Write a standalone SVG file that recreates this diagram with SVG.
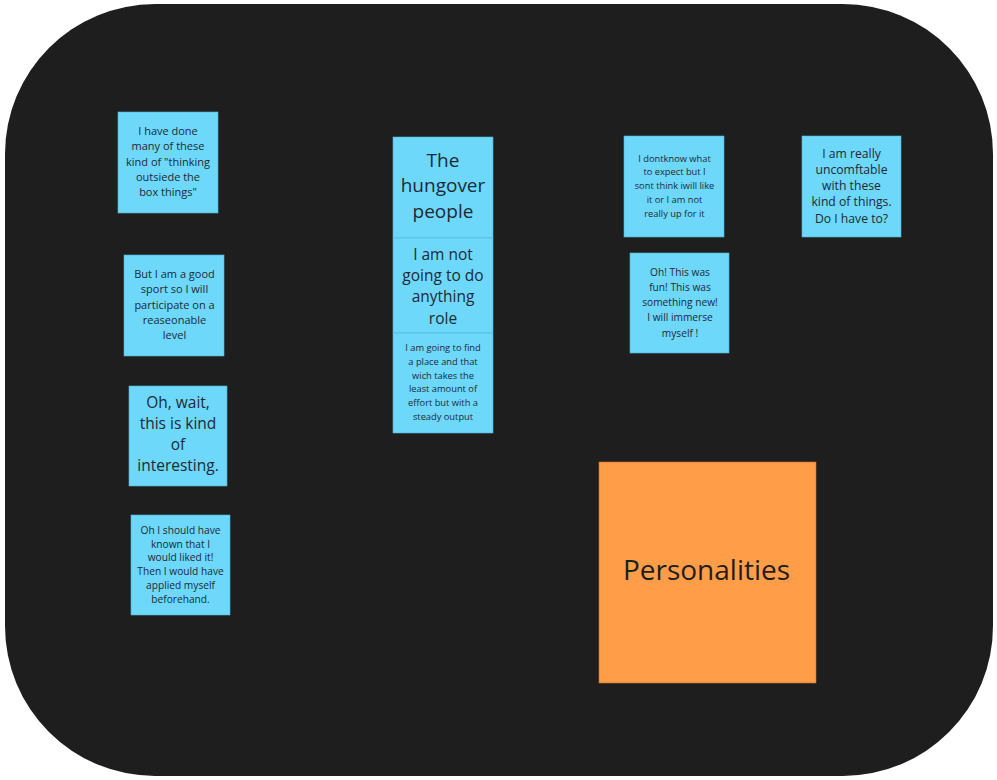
<svg xmlns="http://www.w3.org/2000/svg" width="997" height="780" viewBox="0 0 997 780">
<style>
.note{fill:#6dd8fa;stroke:#4fb7d8;stroke-width:0.6}
.org{fill:#ff9d48;stroke:#c9742c;stroke-width:0.6}
text{font-family:"Open Sans","Noto Sans","Liberation Sans",sans-serif;fill:#1e2a35;text-anchor:middle}
.s95{font-size:9.3px}.s105{font-size:10.2px}.s11{font-size:11px}.s125{font-size:12.2px}.s155{font-size:15.5px}.s19{font-size:19px}
.big{font-size:28px;fill:#1e1e1e}
</style>
<rect x="5" y="4" width="988" height="772" rx="150" ry="150" fill="#1e1e1e"/>
<g id="n1"><rect class="note" x="118" y="112" width="100" height="101"/>
<text class="s11"><tspan x="168" y="135">I have done</tspan><tspan x="168" y="150.3">many of these</tspan><tspan x="168" y="165.6">kind of "thinking</tspan><tspan x="168" y="181">outsiede the</tspan><tspan x="168" y="196.3">box things"</tspan></text></g>
<g id="n2"><rect class="note" x="124" y="255" width="100" height="101"/>
<text class="s11"><tspan x="174.5" y="278">But I am a good</tspan><tspan x="174.5" y="293.3">sport so I will</tspan><tspan x="174.5" y="308.6">participate on a</tspan><tspan x="174.5" y="324">reaseonable</tspan><tspan x="174.5" y="339.3">level</tspan></text></g>
<g id="n3"><rect class="note" x="129" y="386" width="98" height="100"/>
<text class="s155"><tspan x="178" y="407.5">Oh, wait,</tspan><tspan x="178" y="428.8">this is kind</tspan><tspan x="178" y="450">of</tspan><tspan x="178" y="471.3">interesting.</tspan></text></g>
<g id="n4"><rect class="note" x="131" y="515" width="99" height="100"/>
<text class="s105"><tspan x="180.5" y="533.7">Oh I should have</tspan><tspan x="180.5" y="547.5">known that I</tspan><tspan x="180.5" y="561.3">would liked it!</tspan><tspan x="180.5" y="575.1">Then I would have</tspan><tspan x="180.5" y="588.9">applied myself</tspan><tspan x="180.5" y="602.7">beforehand.</tspan></text></g>
<g id="n5"><rect class="note" x="393" y="137" width="100" height="101"/>
<text class="s19"><tspan x="443" y="166.5">The</tspan><tspan x="443" y="192.3">hungover</tspan><tspan x="443" y="218">people</tspan></text></g>
<g id="n6"><rect class="note" x="393" y="238" width="100" height="95"/>
<text class="s155"><tspan x="443" y="259.5">I am not</tspan><tspan x="443" y="281">going to do</tspan><tspan x="443" y="302.3">anything</tspan><tspan x="443" y="323.5">role</tspan></text></g>
<g id="n7"><rect class="note" x="393" y="333" width="100" height="100"/>
<text class="s95"><tspan x="443" y="351.3">I am going to find</tspan><tspan x="443" y="365">a place and that</tspan><tspan x="443" y="378.7">wich takes the</tspan><tspan x="443" y="392.4">least amount of</tspan><tspan x="443" y="406.1">effort but with a</tspan><tspan x="443" y="419.8">steady output</tspan></text></g>
<g id="n8"><rect class="note" x="624" y="136" width="100" height="101"/>
<text class="s95"><tspan x="674.5" y="161.5">I dontknow what</tspan><tspan x="674.5" y="175.3">to expect but I</tspan><tspan x="674.5" y="189.1">sont think iwill like</tspan><tspan x="674.5" y="202.9">it or I am not</tspan><tspan x="674.5" y="216.7">really up for it</tspan></text></g>
<g id="n9"><rect class="note" x="630" y="253" width="99" height="100"/>
<text class="s105"><tspan x="680" y="275.5">Oh! This was</tspan><tspan x="680" y="290.8">fun! This was</tspan><tspan x="680" y="306.1">something new!</tspan><tspan x="680" y="321.4">I will immerse</tspan><tspan x="680" y="336.7">myself !</tspan></text></g>
<g id="n10"><rect class="note" x="802" y="136" width="99" height="101"/>
<text class="s125"><tspan x="851.5" y="157.5">I am really</tspan><tspan x="851.5" y="173.8">uncomftable</tspan><tspan x="851.5" y="190.1">with these</tspan><tspan x="851.5" y="206.4">kind of things.</tspan><tspan x="851.5" y="222.7">Do I have to?</tspan></text></g>
<g id="n11"><rect class="org" x="599" y="462" width="217" height="221"/>
<text class="big" x="706.5" y="580">Personalities</text></g>
<g id="connectors"/>
</svg>
